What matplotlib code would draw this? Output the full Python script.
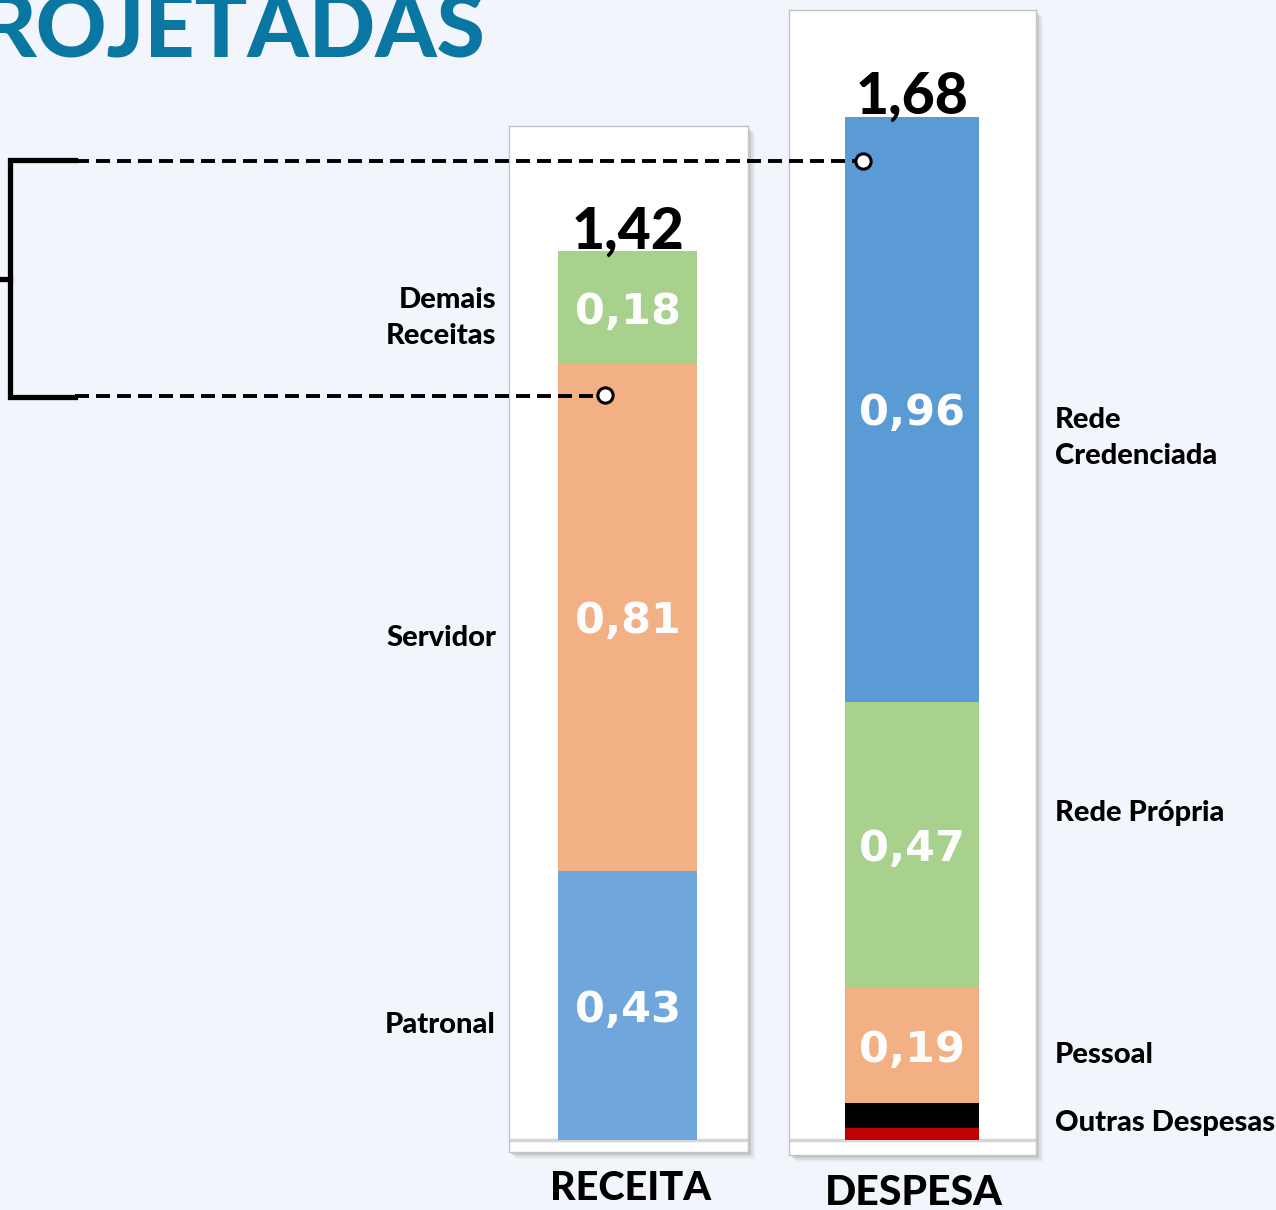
import matplotlib
matplotlib.use("Agg")
import matplotlib.pyplot as plt
from matplotlib.patches import Rectangle
import numpy as np

# Dados (em bilhões)
receita_cats = ["Patronal", "Servidor", "Demais\nReceitas"]
receita_vals = [0.43, 0.81, 0.18]
receita_cores = ["#6fa7dc", "#f2b084", "#a9d18e"]
receita_rotulos = ["0,43", "0,81", "0,18"]
receita_total = "1,42"

despesa_cats = ["", "Outras Despesas", "Pessoal", "Rede Própria", "Rede\nCredenciada"]
despesa_vals = [0.02, 0.04, 0.19, 0.47, 0.96]
despesa_cores = ["#c00000", "#000000", "#f2b084", "#a9d18e", "#5b9bd5"]
despesa_rotulos = ["", "", "0,19", "0,47", "0,96"]
despesa_total = "1,68"

W, H = 1276, 1210
FONTE = ["Lato", "DejaVu Sans"]

fig = plt.figure(figsize=(W / 100, H / 100), dpi=100)
fig.patch.set_facecolor("#f2f6fc")

# eixo de fundo (sombras e título), em pixels
fundo = fig.add_axes([0, 0, 1, 1], zorder=0)
fundo.set_xlim(0, W)
fundo.set_ylim(H, 0)
fundo.axis("off")

# eixo de cima (colchete, linhas tracejadas e textos)
topo = fig.add_axes([0, 0, 1, 1], zorder=5)
topo.set_xlim(0, W)
topo.set_ylim(H, 0)
topo.axis("off")


def painel(x0, x1, y0, y1, base, px_por_unid):
    # sombra
    for d, a in [(7, 0.06), (5, 0.10), (3, 0.16)]:
        fundo.add_patch(Rectangle((x0 + d, y0 + d), x1 - x0, y1 - y0,
                                  facecolor="#555555", alpha=a, lw=0))
    ax = fig.add_axes([x0 / W, 1 - y1 / H, (x1 - x0) / W, (y1 - y0) / H], zorder=2)
    ax.set_facecolor("white")
    ax.set_xlim(0, 1)
    ax.set_ylim(-(y1 - base) / px_por_unid, (base - y0) / px_por_unid)
    ax.set_xticks([])
    ax.set_yticks([])
    for s in ax.spines.values():
        s.set_color("#c4c4c4")
        s.set_linewidth(1)
    ax.axhline(0, color="#d6d6d6", lw=2.5, zorder=1)
    return ax


def barra(ax, xc, largura, vals, cores, rotulos, total):
    baixo = np.concatenate([[0], np.cumsum(vals)[:-1]])
    ax.bar(xc, vals, bottom=baixo, width=largura, color=cores, zorder=2)
    for b, v, r in zip(baixo, vals, rotulos):
        if r:
            ax.annotate(r, (xc, b + v / 2), xytext=(0, -3), textcoords="offset points",
                        ha="center", va="center", color="#fdfdfd",
                        fontsize=31, fontweight="bold", family="DejaVu Sans", zorder=3)
    ax.annotate(total, (xc, sum(vals)), xytext=(0, 2), textcoords="offset points",
                ha="center", va="baseline", fontsize=41, fontweight="black",
                family=FONTE, color="black", zorder=3)


ax_r = painel(509, 748, 126, 1152, 1140, 626)
barra(ax_r, 0.496, 0.582, receita_vals, receita_cores, receita_rotulos, receita_total)

ax_d = painel(789, 1036, 10, 1155, 1140, 609)
barra(ax_d, 0.498, 0.543, despesa_vals, despesa_cores, despesa_rotulos, despesa_total)

# título cortado
fundo.text(485, 58, "ROJETADAS", ha="right", va="baseline", fontsize=63,
           fontweight="black", family=FONTE, color="#0a76a2")

# rótulos das categorias
rot = dict(fontsize=21, fontweight="black", family=FONTE, color="black",
           va="center", linespacing=1.5)
for txt, y in zip(receita_cats, [1025, 638, 318]):
    topo.text(496, y, txt, ha="right", **rot)
for txt, y in zip(despesa_cats, [None, 1123, 1055, 813, 438]):
    if txt:
        topo.text(1055, y, txt, ha="left", **rot)

# nomes das colunas
topo.text(631, 1189, "RECEITA", ha="center", va="center", fontsize=28.5,
          fontweight="black", family=FONTE)
topo.text(914, 1193, "DESPESA", ha="center", va="center", fontsize=29.5,
          fontweight="black", family=FONTE)

# colchete e ligações tracejadas
topo.plot([75, 10, 10, 75], [160, 160, 397, 397], color="black", lw=3.8,
          solid_joinstyle="miter")
topo.plot([0, 10], [279, 279], color="black", lw=3.8)
topo.plot([75, 863], [161, 161], color="black", lw=2.8, ls=(0, (3.6, 1.8)))
topo.plot([75, 605], [396, 396], color="black", lw=2.8, ls=(0, (3.6, 1.8)))
topo.plot([863, 605], [161, 395], ls="none", marker="o", ms=11,
          mfc="white", mec="black", mew=2.2)

fig.savefig("out.png", dpi=100, facecolor=fig.get_facecolor())
